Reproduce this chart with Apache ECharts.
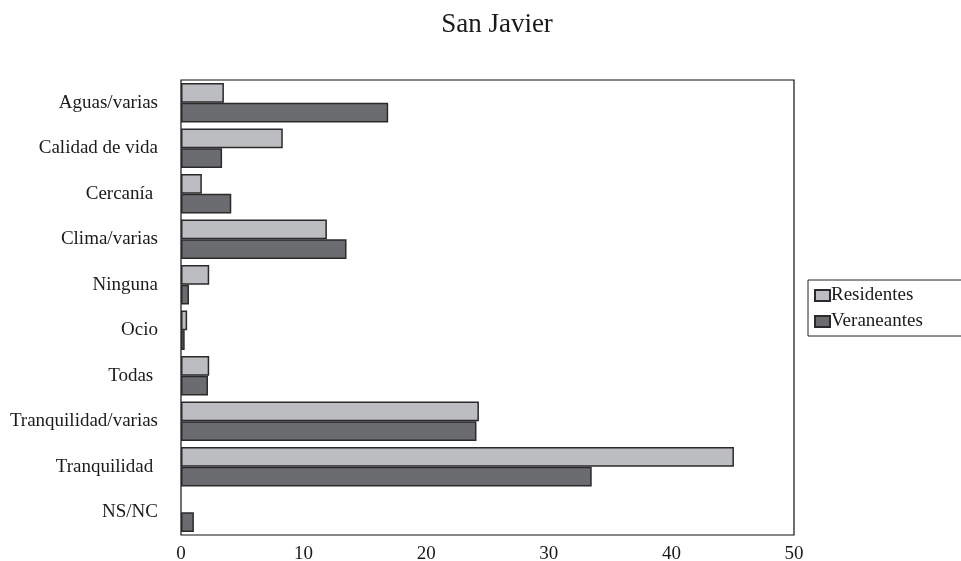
<!DOCTYPE html>
<html>
<head>
<meta charset="utf-8">
<script src="https://cdn.jsdelivr.net/npm/echarts@6/dist/echarts.min.js"></script>
<style>html,body{margin:0;padding:0;background:#fff}#c{width:961px;height:561px}</style>
</head>
<body>
<div id="c"></div>
<script>
const categories = ["Aguas/varias", "Calidad de vida", "Cercanía ", "Clima/varias", "Ninguna", "Ocio", "Todas ", "Tranquilidad/varias", "Tranquilidad ", "NS/NC"];
const residentes = [3.5, 8.3, 1.7, 11.9, 2.3, 0.5, 2.3, 24.3, 45.1, 0];
const veraneantes = [16.9, 3.35, 4.1, 13.5, 0.65, 0.3, 2.2, 24.1, 33.5, 1.05];
const xTicks = [0, 10, 20, 30, 40, 50];

const FONT = '"Liberation Serif", "DejaVu Serif", serif';
const noZero = arr => arr.map(v => (v === 0 ? null : v));
const chart = echarts.init(document.getElementById('c'), null, {renderer: 'canvas'});
chart.setOption({
  animation: false,
  backgroundColor: '#fff',
  title: {
    text: 'San Javier', left: 492, top: 6, textAlign: 'center',
    textStyle: {fontFamily: FONT, fontSize: 27, fontWeight: 'normal', color: '#1a1a1a'}
  },
  legend: {
    orient: 'vertical', left: 808, top: 280, padding: [6, 40, 5, 6],
    borderColor: '#222', borderWidth: 1, itemWidth: 15, itemHeight: 11, itemGap: 7,
    icon: 'rect',
    textStyle: {fontFamily: FONT, fontSize: 19, color: '#1a1a1a', padding: [0, 0, 0, -4]},
    data: ['Residentes', 'Veraneantes']
  },
  grid: {left: 181, right: 167, top: 80, bottom: 26, containLabel: false, outerBoundsMode: 'none',
    show: true, borderColor: '#111', borderWidth: 1.2, backgroundColor: '#fff'},
  xAxis: {
    type: 'value', min: 0, max: 50, interval: 10,
    axisLine: {show: false}, axisTick: {show: false}, splitLine: {show: false},
    axisLabel: {fontFamily: FONT, fontSize: 19, color: '#1a1a1a', margin: 10,
      formatter: v => xTicks.includes(v) ? String(v) : ''}
  },
  yAxis: {
    type: 'category', data: categories, inverse: true,
    axisLine: {show: false}, axisTick: {show: false}, splitLine: {show: false},
    axisLabel: {fontFamily: FONT, fontSize: 19, color: '#1a1a1a', margin: 23, padding: [0, 0, 4, 0]}
  },
  series: [
    {name: 'Residentes', type: 'bar', data: noZero(residentes), barGap: '0%', barCategoryGap: '13%',
      itemStyle: {color: '#bcbdc0', borderColor: '#2a2a2a', borderWidth: 1.5}},
    {name: 'Veraneantes', type: 'bar', data: noZero(veraneantes), barGap: '0%', barCategoryGap: '13%',
      itemStyle: {color: '#6b6c70', borderColor: '#2a2a2a', borderWidth: 1.5}}
  ]
});
</script>
</body>
</html>
